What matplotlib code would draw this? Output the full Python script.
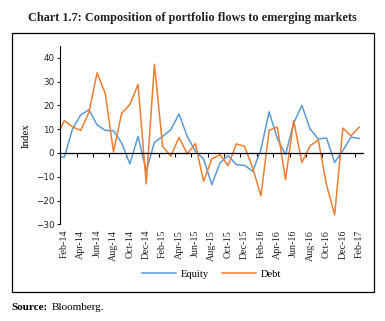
"""
Composition of portfolio flows to emerging markets (Chart 1.7).
"""

import numpy as np
import matplotlib as mpl
mpl.use('Agg')
import matplotlib.pyplot as plt
from matplotlib.patches import Rectangle

months = ['Jan-14', 'Feb-14', 'Mar-14', 'Apr-14', 'May-14', 'Jun-14',
          'Jul-14', 'Aug-14', 'Sep-14', 'Oct-14', 'Nov-14', 'Dec-14',
          'Jan-15', 'Feb-15', 'Mar-15', 'Apr-15', 'May-15', 'Jun-15',
          'Jul-15', 'Aug-15', 'Sep-15', 'Oct-15', 'Nov-15', 'Dec-15',
          'Jan-16', 'Feb-16', 'Mar-16', 'Apr-16', 'May-16', 'Jun-16',
          'Jul-16', 'Aug-16', 'Sep-16', 'Oct-16', 'Nov-16', 'Dec-16',
          'Jan-17', 'Feb-17']

equity = [-1.7, -1.7, 10.1, 16.0, 18.2, 11.8, 9.5, 9.4, 4.2, -4.6, 7.0, -7.5,
          4.5, 7.0, 9.8, 16.4, 7.0, 0.7, -2.5, -13.3, -4.2, -1.1, -4.9, -5.2,
          -7.7, 1.4, 17.3, 6.1, -0.7, 12.6, 20.0, 10.1, 5.9, 6.3, -4.0, 1.0,
          6.7, 6.1]

debt = [6.4, 13.6, 11.0, 9.5, 17.0, 33.7, 25.0, 0.5, 16.7, 20.4, 28.8, -13.0,
        37.3, 2.8, -1.4, 6.6, -0.4, 3.9, -11.9, -2.5, -0.7, -5.3, 3.8, 2.8,
        -6.3, -18.0, 9.5, 10.9, -11.2, 13.6, -4.0, 3.0, 5.5, -13.3, -26.0,
        10.5, 7.2, 10.9]

y_ticks = [-30, -20, -10, 0, 10, 20, 30, 40]

SERIF = 'Liberation Serif'
SANS = 'DejaVu Sans'


def draw(ax):
    """
    Draw both series and style the axes like the Excel original.
    """
    x = np.arange(len(months))
    ax.plot(x, equity, color='#5B9BD5', lw=1.1, label='Equity')
    ax.plot(x, debt, color='#ED7D31', lw=1.1, label='Debt')

    ax.set_xlim(0.47, len(months) - 0.5)
    ax.set_ylim(-30, 45)
    ax.set_yticks(y_ticks)
    ax.tick_params(axis='y', direction='out', length=2.5, width=0.8,
                   labelsize=6.3, pad=1.5, colors='#222222')
    for lab in ax.get_yticklabels():
        lab.set_fontfamily(SANS)
    ax.set_ylabel('Index', fontfamily=SERIF, fontsize=7.8, labelpad=4)

    for side in ('top', 'right'):
        ax.spines[side].set_visible(False)
    ax.spines['left'].set_linewidth(0.8)
    ax.spines['bottom'].set_position(('data', 0))
    ax.spines['bottom'].set_linewidth(0.9)

    # tick marks on the zero line, labels at the bottom
    ax.set_xticks(np.arange(2.5, len(months) - 1, 2), minor=True)
    ax.set_xticks([])
    ax.tick_params(axis='x', which='minor', direction='out', length=3,
                   width=0.8)
    sec = ax.secondary_xaxis('bottom')
    sec.set_xticks(x[1::2])
    sec.set_xticklabels(months[1::2], rotation=90, fontfamily=SERIF,
                        fontsize=7.2, color='#222222')
    sec.tick_params(length=0, pad=4)
    sec.spines['bottom'].set_visible(False)

    ax.legend(loc='center', bbox_to_anchor=(0.5, -0.28), ncol=2,
              frameon=False, prop={'family': SERIF, 'size': 7.6},
              handlelength=3.2, handletextpad=0.45, columnspacing=1.3)


def main():
    fig = plt.figure(figsize=(3.85, 3.21), dpi=100)
    ax = fig.add_axes([0.1558, 0.3012, 0.7879, 0.5555])
    draw(ax)

    fig.patches.append(Rectangle((0.031, 0.089), 0.941, 0.807,
                                 transform=fig.transFigure, fill=False,
                                 edgecolor='black', lw=0.9))
    fig.text(0.5, 0.945, 'Chart 1.7: Composition of portfolio flows to '
             'emerging markets', ha='center', va='center', fontfamily=SERIF,
             fontweight='bold', fontsize=8.8, color='#222222')
    fig.text(0.031, 0.043, 'Source:', ha='left', va='center',
             fontfamily=SERIF, fontweight='bold', fontsize=8)
    fig.text(0.135, 0.043, 'Bloomberg.', ha='left', va='center',
             fontfamily=SERIF, fontsize=8)

    fig.savefig('out.png', dpi=100)
    plt.close('all')


if __name__ == '__main__':
    main()
